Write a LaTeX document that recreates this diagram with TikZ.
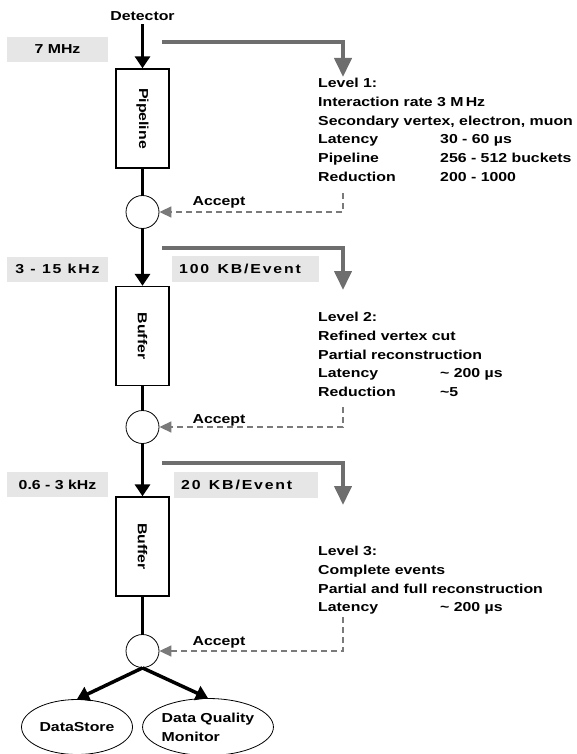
\documentclass[tikz,border=0pt]{standalone}
\usepackage{fontspec}
\setmainfont[FakeStretch=1.22]{Liberation Sans}
\usetikzlibrary{arrows.meta, positioning, shapes.geometric, calc}

\definecolor{boxgray}{HTML}{E6E6E6}
\definecolor{pathgray}{HTML}{6E6E6E}
\definecolor{backgray}{HTML}{7A7A7A}
\newcommand{\latrow}[2]{\makebox[122pt][l]{#1}#2}
\newcommand{\spaced}[1]{{\addfontfeature{LetterSpace=14}#1}}

\begin{document}
\begin{tikzpicture}[x=1pt, y=-1pt, font=\fontsize{13}{18.7}\selectfont\bfseries,
    flow/.style={line width=3.5pt, -{Triangle[width=15pt,length=12pt]}},
    pass/.style={line width=3.5pt},
    stage/.style={draw, line width=1.3pt, minimum width=53pt, minimum height=99pt, inner sep=0pt},
    gate/.style={draw, circle, line width=0.8pt, minimum size=33pt, inner sep=0pt},
    sink/.style={draw, ellipse, line width=0.8pt, inner sep=0pt},
    ratebox/.style={fill=boxgray, minimum width=101pt, minimum height=25pt, inner sep=0pt},
    kbbox/.style={fill=boxgray, anchor=west, minimum height=26pt, inner xsep=7pt, align=left},
    datapath/.style={draw=pathgray, line width=4pt, -{Triangle[width=17pt,length=19pt]}},
    feedback/.style={draw=backgray, line width=1.5pt, dash pattern=on 6pt off 4pt,
        -{Triangle[width=11pt,length=12pt]}},
    level/.style={anchor=north west, align=left, inner sep=0pt}]
    \useasboundingbox (0,0) rectangle (577,754);

    % Main chain
    \node (det) at (142.5,16) {Detector};
    \node[stage] (pipe) at (142.5,118.5) {\rotatebox{-90}{Pipeline}};
    \node[gate] (c1) at (142.5,212) {};
    \node[stage] (buf1) at (142.5,336) {\rotatebox{-90}{Buffer}};
    \node[gate] (c2) at (142.5,427) {};
    \node[stage] (buf2) at (142.5,546.5) {\rotatebox{-90}{Buffer}};
    \node[gate] (c3) at (142.5,651) {};
    \node[sink, minimum width=111pt, minimum height=55pt] (ds) at (77,727) {DataStore};
    \node[sink, minimum width=110pt, minimum height=57pt, align=left] (dqm) at (208,727)
        {Data Quality\\Monitor};

    \draw[flow] (det) -- (pipe);
    \draw[pass] (pipe) -- (c1);
    \draw[flow] (c1) -- (buf1);
    \draw[pass] (buf1) -- (c2);
    \draw[flow] (c2) -- (buf2);
    \draw[pass] (buf2) -- (c3);
    \draw[flow] (c3.south) -- (ds.north);
    \draw[flow] (c3.south) -- (dqm.north);

    % Rates
    \node[ratebox] (r1) at (57.5,49.5) {7 MHz};
    \node[ratebox] (r2) at (57.5,269) {\spaced{3 - 15 kHz}};
    \node[ratebox] (r3) at (57.5,484.5) {0.6 - 3 kHz};
    \node[kbbox, text width=133pt] (kb1) at (172,269) {\spaced{100\hspace{4pt} KB/Event}};
    \node[kbbox, text width=130pt] (kb2) at (174,484.5) {\spaced{20\hspace{4pt} KB/Event}};

    % Trigger levels
    \node[level] (lvl1) at (318,78) {Level 1:\\
        Interaction rate 3 M\,Hz\\
        Secondary vertex, electron, muon\\
        \latrow{Latency}{30 - 60 µs}\\
        \latrow{Pipeline}{256 - 512 buckets}\\
        \latrow{Reduction}{200 - 1000}};
    \node[level] (lvl2) at (318,312) {Level 2:\\
        Refined vertex cut\\
        Partial reconstruction\\
        \latrow{Latency}{\textasciitilde\ 200 µs}\\
        \latrow{Reduction}{\textasciitilde 5}};
    \node[level] (lvl3) at (318,546) {Level 3:\\
        Complete events\\
        Partial and full reconstruction\\
        \latrow{Latency}{\textasciitilde\ 200 µs}};

    \coordinate (tap1) at (162,42);
    \coordinate (in1) at (343,77);
    \coordinate (tap2) at (162,248);
    \coordinate (in2) at (343,290);
    \coordinate (tap3) at (162,463);
    \coordinate (in3) at (343,505);
    \draw[datapath] (tap1) -| (in1);
    \draw[datapath] (tap2) -| (in2);
    \draw[datapath] (tap3) -| (in3);

    % Accept
    \coordinate (fb1) at (343,193);
    \coordinate (fb2) at (343,407);
    \coordinate (fb3) at (343,617);
    \draw[feedback] (fb1) |- (c1);
    \draw[feedback] (fb2) |- (c2);
    \draw[feedback] (fb3) |- (c3);
    \node (a1) at (219,202) {Accept};
    \node (a2) at (219,420) {Accept};
    \node (a3) at (219,642) {Accept};
\end{tikzpicture}
\end{document}
